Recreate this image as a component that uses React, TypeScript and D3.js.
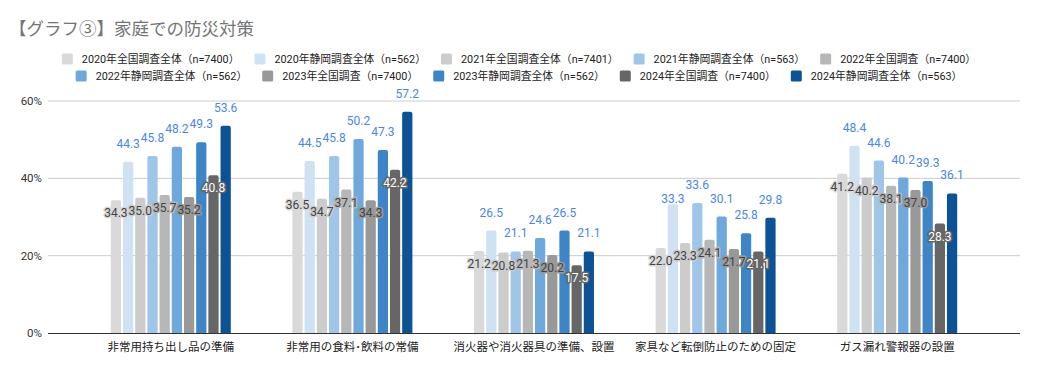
import React, { useEffect, useRef } from 'react';
import * as d3 from 'd3';

const categories = [
  '非常用持ち出し品の準備',
  '非常用の食料･飲料の常備',
  '消火器や消火器具の準備、設置',
  '家具など転倒防止のための固定',
  'ガス漏れ警報器の設置',
];

const seriesNames = [
  '2020年全国調査全体（n=7400）',
  '2020年静岡調査全体（n=562）',
  '2021年全国調査全体（n=7401）',
  '2021年静岡調査全体（n=563）',
  '2022年全国調査（n=7400）',
  '2022年静岡調査全体（n=562）',
  '2023年全国調査（n=7400）',
  '2023年静岡調査全体（n=562）',
  '2024年全国調査（n=7400）',
  '2024年静岡調査全体（n=563）',
];

const nat2020 = [34.3, 36.5, 21.2, 22.0, 41.2];
const shz2020 = [44.3, 44.5, 26.5, 33.3, 48.4];
const nat2021 = [35.0, 34.7, 20.8, 23.3, 40.2];
const shz2021 = [45.8, 45.8, 21.1, 33.6, 44.6];
const nat2022 = [35.7, 37.1, 21.3, 24.1, 38.1];
const shz2022 = [48.2, 50.2, 24.6, 30.1, 40.2];
const nat2023 = [35.2, 34.3, 20.2, 21.7, 37.0];
const shz2023 = [49.3, 47.3, 26.5, 25.8, 39.3];
const nat2024 = [40.8, 42.2, 17.5, 21.1, 28.3];
const shz2024 = [53.6, 57.2, 21.1, 29.8, 36.1];

const seriesValues = [nat2020, shz2020, nat2021, shz2021, nat2022, shz2022, nat2023, shz2023, nat2024, shz2024];

const seriesColors = ['#d9d9d9', '#cfe2f3', '#cccccc', '#9fc5e8', '#b7b7b7', '#6fa8dc', '#999999', '#3d85c6', '#666666', '#0b5394'];

const yTicks = [0, 20, 40, 60];

const title = '【グラフ③】家庭での防災対策';

const FONT = "Roboto, 'Noto Sans CJK JP', sans-serif";
const W = 1038;
const H = 371;

export default function App() {
  const ref = useRef<SVGSVGElement>(null);

  useEffect(() => {
    const svg = d3.select(ref.current);
    svg.selectAll('*').remove();

    const gridLeft = 48, gridRight = 1020;
    const plotLeft = 80, plotRight = 988;
    const yTop = 101, yBottom = 333;

    const x0 = d3.scaleBand<string>().domain(categories).range([plotLeft, plotRight]).padding(0);
    const groupW = 120;
    const x1 = d3.scaleBand<number>().domain(d3.range(seriesNames.length)).range([0, groupW]).paddingInner(0.16);
    const y = d3.scaleLinear().domain([0, 60]).range([yBottom, yTop]);

    // title
    svg.append('text').attr('x', 9).attr('y', 35).attr('font-family', FONT)
      .attr('font-size', 17.5).attr('fill', '#757575').text(title);

    // gridlines
    svg.append('g').selectAll('line').data(yTicks.filter(t => t > 0)).join('line')
      .attr('x1', gridLeft).attr('x2', gridRight)
      .attr('y1', d => y(d)).attr('y2', d => y(d))
      .attr('stroke', '#cccccc').attr('stroke-width', 1);

    // y tick labels
    svg.append('g').selectAll('text').data(yTicks).join('text')
      .attr('x', 42).attr('y', d => y(d) + 4).attr('text-anchor', 'end')
      .attr('font-family', FONT).attr('font-size', 11.5).attr('fill', '#333')
      .text(d => `${d}%`);

    // bars
    const r = 2;
    const barPath = (x: number, w: number, top: number, bottom: number) => {
      const h = bottom - top;
      const rr = Math.min(r, h / 2, w / 2);
      return `M${x},${bottom}V${top + rr}Q${x},${top} ${x + rr},${top}H${x + w - rr}Q${x + w},${top} ${x + w},${top + rr}V${bottom}Z`;
    };

    const groups = svg.append('g').selectAll('g').data(categories).join('g')
      .attr('transform', d => `translate(${(x0(d) as number) + x0.bandwidth() / 2 - groupW / 2},0)`);

    groups.each(function (cat, ci) {
      const g = d3.select(this);
      seriesValues.forEach((vals, si) => {
        const v = vals[ci];
        g.append('path')
          .attr('d', barPath(x1(si) as number, x1.bandwidth(), y(v), yBottom))
          .attr('fill', seriesColors[si]);
      });
    });

    // axis line
    svg.append('line').attr('x1', gridLeft).attr('x2', gridRight)
      .attr('y1', yBottom + 0.5).attr('y2', yBottom + 0.5)
      .attr('stroke', '#333').attr('stroke-width', 1);

    // labels for national (gray) series - drawn inside top with halo
    groups.each(function (cat, ci) {
      const g = d3.select(this);
      seriesValues.forEach((vals, si) => {
        if (si % 2 === 1) return;
        const v = vals[ci];
        const cx = (x1(si) as number) + x1.bandwidth() / 2;
        g.append('text')
          .attr('x', cx).attr('y', y(v) + 17)
          .attr('text-anchor', 'middle')
          .attr('font-family', FONT).attr('font-size', 12)
          .attr('fill', si === 8 ? '#ffffff' : '#444444')
          .attr('stroke', seriesColors[si]).attr('stroke-width', 3)
          .attr('stroke-linejoin', 'round')
          .attr('paint-order', 'stroke')
          .text(v.toFixed(1));
      });
    });

    // labels for Shizuoka (blue) series - above bars, with simple collision avoidance
    groups.each(function (cat, ci) {
      const g = d3.select(this);
      const blue = seriesValues.map((vals, si) => ({ si, v: vals[ci] })).filter(d => d.si % 2 === 1);
      const ys = blue.map(d => y(d.v) - 14);
      for (let i = 0; i < blue.length - 1; i++) {
        if (Math.abs(ys[i] - ys[i + 1]) < 2.5) {
          if (blue[i].v < blue[i + 1].v) ys[i] += 13; else ys[i + 1] += 13;
        }
      }
      blue.forEach((d, i) => {
        const cx = (x1(d.si) as number) + x1.bandwidth() / 2;
        g.append('text')
          .attr('x', cx).attr('y', ys[i])
          .attr('text-anchor', 'middle')
          .attr('font-family', FONT).attr('font-size', 12)
          .attr('fill', '#4a86e8')
          .text(d.v.toFixed(1));
      });
    });

    // category labels
    svg.append('g').selectAll('text').data(categories).join('text')
      .attr('x', d => (x0(d) as number) + x0.bandwidth() / 2)
      .attr('y', 351).attr('text-anchor', 'middle')
      .attr('font-family', FONT).attr('font-size', 11.5).attr('fill', '#222')
      .text(d => d);

    // legend
    const rows = [d3.range(0, 5), d3.range(5, 10)];
    const rowY = [59, 76];
    const gap = 15;
    rows.forEach((idxs, ri) => {
      const lg = svg.append('g');
      let cursor = 0;
      idxs.forEach(si => {
        const item = lg.append('g').attr('transform', `translate(${cursor},0)`);
        item.append('rect').attr('x', 0).attr('y', rowY[ri] - 5.5).attr('width', 11).attr('height', 11)
          .attr('rx', 1.5).attr('fill', seriesColors[si]);
        const t = item.append('text').attr('x', 20).attr('y', rowY[ri] + 4)
          .attr('font-family', FONT).attr('font-size', 10.8).attr('fill', '#222')
          .text(seriesNames[si]);
        const tw = (t.node() as SVGTextElement).getComputedTextLength();
        cursor += 20 + tw + gap;
      });
      const total = cursor - gap;
      lg.attr('transform', `translate(${W / 2 - total / 2},0)`);
    });
  }, []);

  return (
    <svg ref={ref} width={W} height={H}
      style={{ position: 'absolute', left: 0, top: 0, background: '#fff' }} />
  );
}
